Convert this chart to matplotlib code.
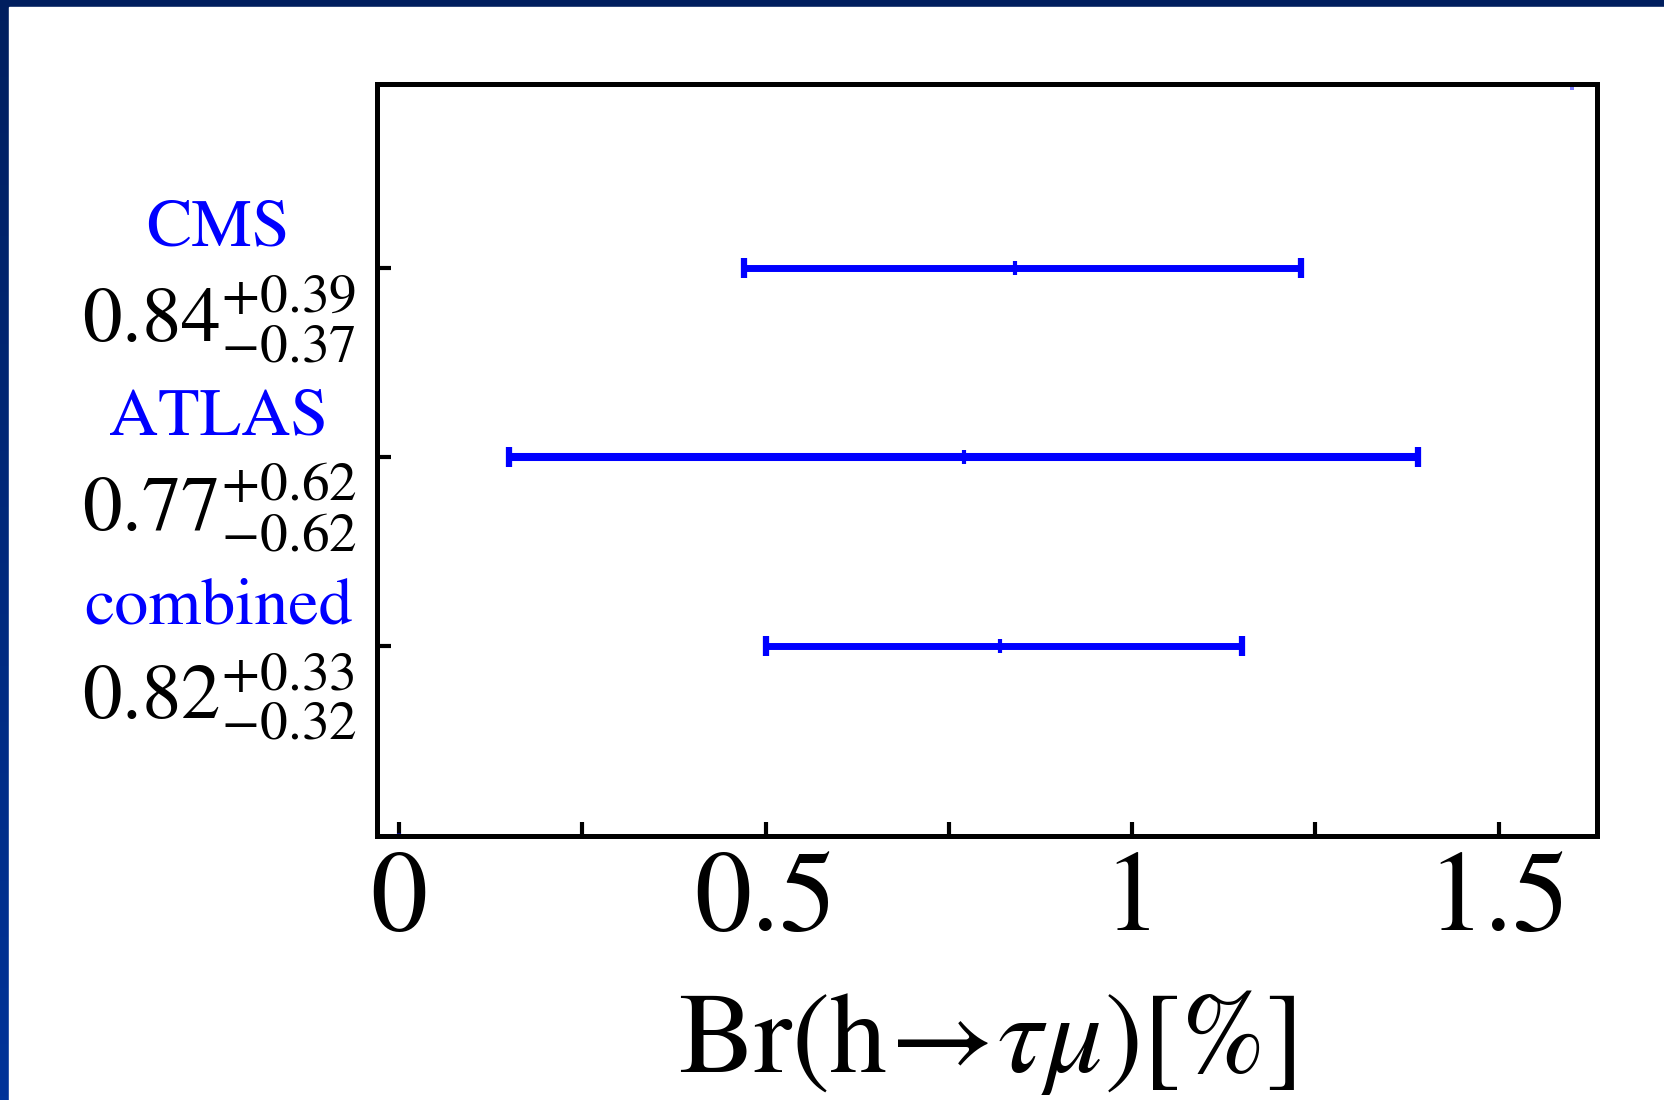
import numpy as np
import matplotlib
matplotlib.use("Agg")
import matplotlib.pyplot as plt
from matplotlib.patches import Rectangle

plt.rcParams['font.family'] = ['STIXGeneral', 'DejaVu Sans']
plt.rcParams['mathtext.fontset'] = 'stix'

# measurements of Br(h -> tau mu) in percent
names = ['CMS', 'ATLAS', 'combined']
centers = [0.84, 0.77, 0.82]
err_plus = [0.39, 0.62, 0.33]
err_minus = [0.37, 0.62, 0.32]
rows = [3, 2, 1]
# invisible points that fix the plot range
range_x = [0.0, 1.6]
range_y = [0.0, 3.95]
xticks_major = [0, 0.5, 1, 1.5]
xtick_labels = ['0', '0.5', '1', '1.5']
xticks_minor = [0.25, 0.75, 1.25]

fig = plt.figure(figsize=(16.64, 11), dpi=100)

# navy frame with a soft vertical gradient, white page on top
bg = fig.add_axes([0, 0, 1, 1], zorder=-10)
grad = np.linspace(0, 1, 256).reshape(-1, 1)
top_col = np.array([0.0, 0.12, 0.37])
bot_col = np.array([0.0, 0.20, 0.60])
img = top_col + (bot_col - top_col) * grad[..., None]
bg.imshow(img, aspect='auto', extent=[0, 1, 0, 1], origin='upper')
bg.add_patch(Rectangle((9 / 1664, 0), 1, 1 - 7 / 1100, color='white'))
bg.set_xlim(0, 1)
bg.set_ylim(0, 1)
bg.axis('off')

ax = fig.add_axes([377 / 1664, 264 / 1100, 1220 / 1664, 752 / 1100])
ax.set_facecolor('white')

widths = [5.0, 5.8, 5.0]
for c, p, m, r, w in zip(centers, err_plus, err_minus, rows, widths):
    ax.errorbar([c], [r], xerr=[[m], [p]], fmt='none', ecolor='blue',
                elinewidth=w, capsize=7.5, capthick=4.5)
    ax.plot([c], [r], marker='|', color='blue', markersize=10, mew=3)

ax.plot(range_x, range_y, 's', color='blue', alpha=0.5, markersize=2.5,
        markeredgewidth=0)

ax.set_xlim(-0.03, 1.634)
ax.set_ylim(-0.005, 3.97)

ax.set_xticks(xticks_major)
ax.set_xticklabels(xtick_labels)
ax.set_xticks(xticks_minor, minor=True)
ax.set_yticks(rows)
ax.set_yticklabels([''] * len(rows))
ax.tick_params(axis='both', which='both', direction='in', length=10, width=3,
               labelsize=82, pad=11)
ax.tick_params(axis='x', which='minor', length=10, width=3)
for s in ax.spines.values():
    s.set_linewidth(3.6)

ax.set_xlabel(r'$\mathrm{Br}(\mathrm{h}\!\rightarrow\!\tau\mu)[\%]$',
              fontsize=82, labelpad=24)

trans = ax.get_yaxis_transform()
for n, c, p, m, r in zip(names, centers, err_plus, err_minus, rows):
    ax.text(-0.13, r + 0.2, n, transform=trans, ha='center', va='center',
            color='blue', fontsize=49)
    ax.text(-0.129, r - 0.27, r'$%.2f^{+%.2f}_{-%.2f}$' % (c, p, m),
            transform=trans, ha='center', va='center', color='black',
            fontsize=57)

fig.savefig('out.png', dpi=100)
